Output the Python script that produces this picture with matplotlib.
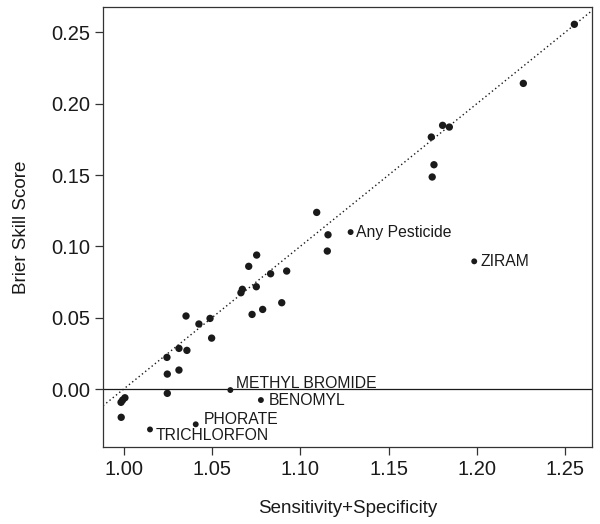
import numpy as np
import matplotlib
matplotlib.use("Agg")
import matplotlib.pyplot as plt

plt.rcParams['font.family'] = ['Liberation Sans', 'DejaVu Sans']

# -----------------------------
# Data
# -----------------------------
sens_spec = [1.2552, 1.2263, 1.1806, 1.1844, 1.1742, 1.1757, 1.1747, 1.1093,
             1.1157, 1.1153, 1.0753, 1.0708, 1.0832, 1.0923, 1.0672, 1.0664,
             1.0751, 1.0895, 1.0787, 1.0727, 1.0353, 1.0489, 1.0426, 1.0498,
             1.0313, 1.0358, 1.0245, 1.0247, 1.0313, 1.0247, 0.9986, 1.0007,
             0.9994, 0.9985]
brier = [0.2556, 0.2142, 0.1848, 0.1836, 0.1766, 0.1572, 0.1486, 0.1238,
         0.1081, 0.0967, 0.0939, 0.0860, 0.0808, 0.0827, 0.0699, 0.0675,
         0.0717, 0.0605, 0.0558, 0.0523, 0.0512, 0.0495, 0.0456, 0.0357,
         0.0285, 0.0271, 0.0222, 0.0105, 0.0133, -0.0030, -0.0198, -0.0061,
         -0.0077, -0.0093]

# labelled points
names = ["Any Pesticide", "ZIRAM", "METHYL BROMIDE", "BENOMYL", "PHORATE", "TRICHLORFON"]
name_x = [1.1285, 1.1985, 1.0604, 1.0777, 1.0408, 1.0149]
name_y = [0.1100, 0.0895, -0.0007, -0.0077, -0.0247, -0.0283]
# label offsets in pixels (dx, dy)
offsets = [(5, 0), (6, 0), (6, 7), (8, 0), (8, 5), (6, -6)]

# -----------------------------
# Plot
# -----------------------------
fig = plt.figure(figsize=(6, 5.24), dpi=100)
ax = fig.add_axes([0.1717, 0.1475, 0.815, 0.8385])

ax.scatter(sens_spec, brier, s=28, color="#1a1a1a", edgecolors="none", zorder=3)
ax.scatter(name_x, name_y, s=18, color="#1a1a1a", edgecolors="none", zorder=3)

for nm, xv, yv, off in zip(names, name_x, name_y, offsets):
    ax.annotate(nm, (xv, yv), xytext=(off[0] * 0.72, off[1] * 0.72),
                textcoords="offset points", ha="left", va="center",
                fontsize=11.3, color="#1a1a1a")

ax.axline((1.0, 0.0), slope=1.0, color="#1a1a1a", lw=1.0, linestyle=(0, (1, 2)))
ax.axhline(0.0, color="#1a1a1a", lw=0.9)

ax.set_xlim(0.9883, 1.2652)
ax.set_ylim(-0.0404, 0.2675)
ax.set_xticks(np.arange(1.00, 1.26, 0.05))
ax.set_yticks(np.arange(0.00, 0.26, 0.05))
ax.set_xticklabels(["%.2f" % v for v in np.arange(1.00, 1.26, 0.05)])
ax.set_yticklabels(["%.2f" % v for v in np.arange(0.00, 0.26, 0.05)])
ax.tick_params(labelsize=14.5, length=5.8, width=0.9, color="#333333",
               labelcolor="#1a1a1a")
ax.tick_params(axis="x", pad=4)
ax.tick_params(axis="y", pad=3.5)

for sp in ax.spines.values():
    sp.set_color("#333333")
    sp.set_linewidth(0.9)

ax.set_xlabel("Sensitivity+Specificity", fontsize=13.5, color="#1a1a1a", labelpad=15)
ax.set_ylabel("Brier Skill Score", fontsize=13.5, color="#1a1a1a", labelpad=15)

fig.savefig("out.png", dpi=100)
